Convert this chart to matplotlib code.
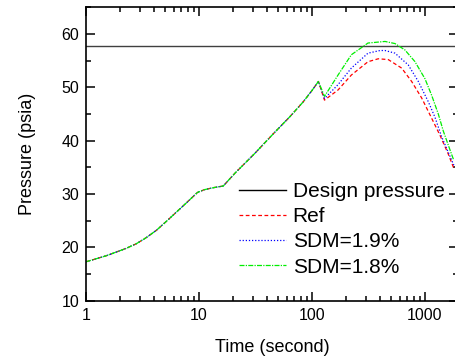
import numpy as np
import matplotlib.pyplot as plt
from matplotlib.ticker import MultipleLocator, LogLocator, FixedLocator, NullFormatter

plt.rcParams['font.family'] = ['Liberation Sans', 'DejaVu Sans']

# shared part of the transient (all cases overlap up to the first peak)
t_common = [1, 1.5, 2.26, 2.8, 3.4, 4.2, 5.1, 7.7, 9.7, 11.1, 13.5, 16.4, 20.8, 31.3, 45.5, 63.8, 83.8, 100, 114]
p_common = [17.3, 18.4, 19.8, 20.7, 21.8, 23.2, 24.8, 28.3, 30.3, 30.8, 31.2, 31.5, 33.9, 37.65, 41.3, 44.5, 47.3, 49.4, 51.1]

# tails after the dip
t_ref = [129, 170, 223, 313, 386, 473, 622, 762, 935, 1146, 1358, 1600, 1800]
p_ref = [47.6, 49.5, 52.3, 54.8, 55.35, 55.2, 53.6, 51.1, 48.0, 44.2, 41.0, 37.6, 34.8]

t_sdm19 = [129, 170, 223, 313, 400, 443, 543, 711, 873, 1070, 1225, 1400, 1800]
p_sdm19 = [47.9, 50.5, 53.6, 56.4, 56.9, 56.9, 56.4, 54.2, 51.1, 47.3, 44.4, 40.8, 35.4]

t_sdm18 = [129, 170, 223, 313, 443, 543, 665, 816, 1000, 1146, 1312, 1453, 1650, 1800]
p_sdm18 = [48.3, 52.3, 56.1, 58.3, 58.6, 58.2, 57.0, 54.8, 51.6, 48.5, 45.0, 41.8, 38.5, 36.3]

design_pressure = 57.7

fig = plt.figure(figsize=(4.55, 3.63), dpi=100)
# right spine sits just outside the picture, like the original export
ax = fig.add_axes([86/455, 1 - 300.7/363, 372/455, 293.4/363])

ax.axhline(design_pressure, color='#404040', lw=1.0, label='Design pressure')
ax.plot(t_common + t_ref, p_common + p_ref, color='red', lw=0.9, ls=(0, (3, 2)), label='Ref')
ax.plot(t_common + t_sdm19, p_common + p_sdm19, color='blue', lw=0.9, ls=(0, (1, 1.5)), label='SDM=1.9%')
ax.plot(t_common + t_sdm18, p_common + p_sdm18, color='#00ee00', lw=0.9,
        ls=(0, (4, 1, 1, 1)), label='SDM=1.8%')

ax.set_xscale('log')
ax.set_xlim(1, 1960)
ax.set_ylim(10, 65)
ax.xaxis.set_major_locator(FixedLocator([1, 10, 100, 1000]))
ax.set_xticklabels(['1', '10', '100', '1000'])
ax.xaxis.set_minor_locator(LogLocator(base=10, subs=np.arange(2, 10)))
ax.xaxis.set_minor_formatter(NullFormatter())
ax.yaxis.set_major_locator(MultipleLocator(10))
ax.yaxis.set_minor_locator(MultipleLocator(5))

ax.tick_params(which='both', direction='in', top=True, right=True, labelsize=11.5, width=1.1)
ax.tick_params(which='major', length=6.5, pad=5)
ax.tick_params(which='minor', length=3.6)
for s in ax.spines.values():
    s.set_linewidth(1.2)

ax.set_xlabel('Time (second)', fontsize=13, labelpad=12)
ax.set_ylabel('Pressure (psia)', fontsize=13, labelpad=18)

leg = ax.legend(loc='upper left', bbox_to_anchor=(0.41, 0.405), frameon=False, fontsize=15,
                handlelength=2.3, handletextpad=0.3, labelspacing=0.3, borderpad=0, borderaxespad=0)
leg.get_lines()[0].set_color('black')

fig.savefig('out.png', dpi=100)
